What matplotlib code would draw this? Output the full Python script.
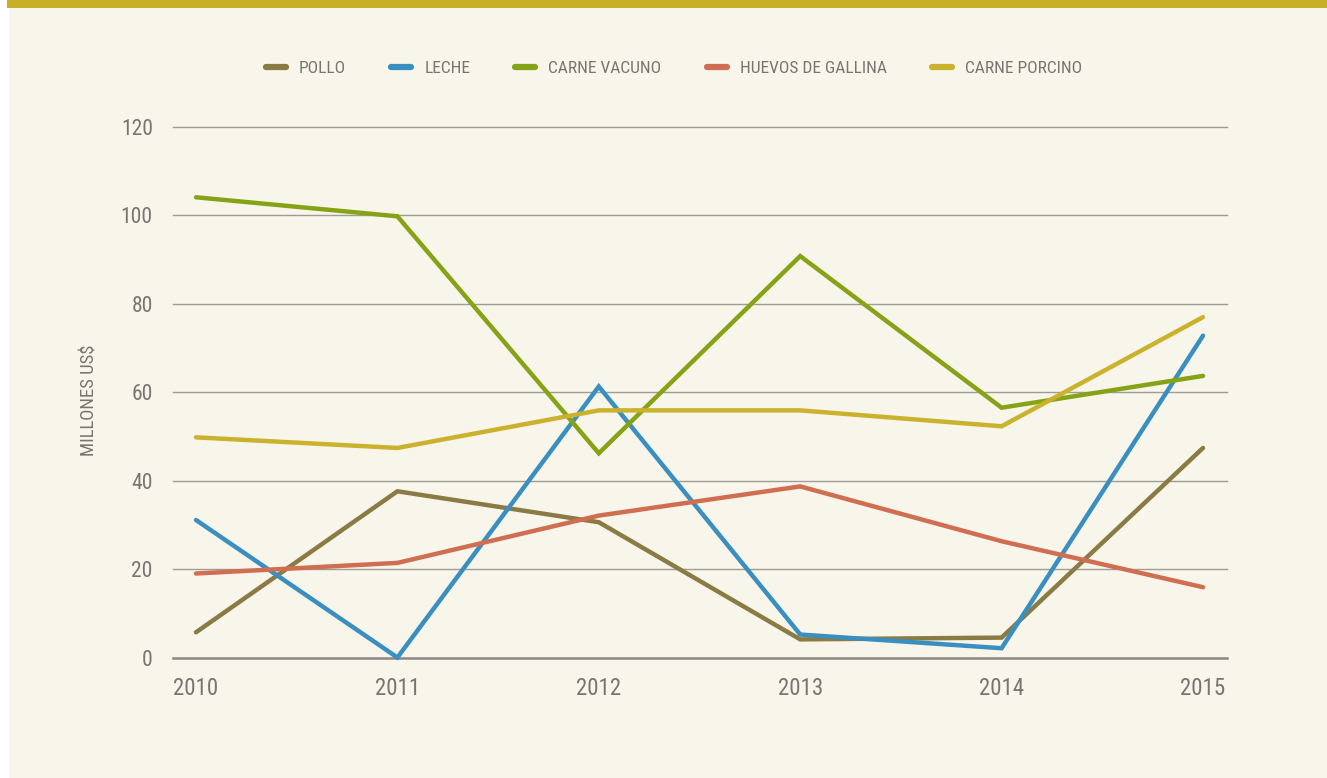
import matplotlib
matplotlib.use("Agg")
import matplotlib.pyplot as plt
from matplotlib.patches import Rectangle
from matplotlib.lines import Line2D

years = [2010, 2011, 2012, 2013, 2014, 2015]
series_names = ["POLLO", "LECHE", "CARNE VACUNO", "HUEVOS DE GALLINA", "CARNE PORCINO"]
pollo = [5.7, 37.6, 30.6, 4.1, 4.5, 47.4]
leche = [31.1, 0.0, 61.3, 5.2, 2.1, 72.8]
carne_vacuno = [104.1, 99.8, 46.2, 90.8, 56.5, 63.7]
huevos = [19.0, 21.4, 32.1, 38.7, 26.3, 15.9]
carne_porcino = [49.8, 47.4, 55.9, 55.9, 52.3, 77.0]
y_ticks = [0, 20, 40, 60, 80, 100, 120]
y_label = "MILLONES US$"

colors = ["#8A7B45", "#3A8FC1", "#86A316", "#D06E52", "#CAB22D"]
values = [pollo, leche, carne_vacuno, huevos, carne_porcino]

FONT = ["Roboto Condensed", "DejaVu Sans Condensed", "Liberation Sans Narrow", "DejaVu Sans"]
STRETCH = "condensed"
TXT = "#7A7471"
W, H = 1327, 778

fig = plt.figure(figsize=(W / 100, H / 100), dpi=100)
fig.patch.set_facecolor("white")
fig.add_artist(Rectangle((9 / W, 0), 1 - 9 / W, 1 - 8 / H, transform=fig.transFigure,
                         facecolor="#F8F5EA", edgecolor="none", zorder=-10))
fig.add_artist(Rectangle((7 / W, 1 - 8 / H), 1 - 7 / W, 8 / H, transform=fig.transFigure,
                         facecolor="#C8AF2A", edgecolor="none", zorder=-10))

left, right = 173 / W, 1227 / W
bottom, top = 1 - 657.5 / H, 1 - 127 / H
ax = fig.add_axes([left, bottom, right - left, top - bottom])
ax.set_facecolor("none")
ax.set_xlim(2010 - 23 / 201.4, 2015 + 24 / 201.4)
ax.set_ylim(0, 120)
for s in ax.spines.values():
    s.set_visible(False)

for t in y_ticks[1:]:
    ax.axhline(t, color="#A09B96", lw=1.0, zorder=1, clip_on=False)
ax.axhline(0, color="#8C8782", lw=1.8, zorder=1, clip_on=False)

for name, vals, c in zip(series_names, values, colors):
    ax.plot(years, vals, color=c, lw=3.2, solid_capstyle="round",
            solid_joinstyle="miter", zorder=3, clip_on=False, label=name)

ax.set_xticks(years)
ax.set_xticklabels([str(y) for y in years], fontsize=16.5, color=TXT, family=FONT,
                   fontstretch=STRETCH)
ax.set_yticks(y_ticks)
ax.set_yticklabels([str(t) for t in y_ticks], fontsize=15.5, color=TXT, family=FONT,
                   fontstretch=STRETCH)
ax.tick_params(axis="x", length=0, pad=14)
ax.tick_params(axis="y", length=0, pad=14.5)

fig.text(89 / W, 1 - 400 / H, y_label, rotation=90, ha="center", va="center",
         fontsize=13.5, color=TXT, family=FONT, fontstretch=STRETCH)

handles = [Line2D([0], [0], color=c, lw=4.5, solid_capstyle="round") for c in colors]
leg = fig.legend(handles, series_names, loc="center", bbox_to_anchor=(674 / W, 1 - 68 / H),
                 ncol=5, frameon=False, handlelength=1.15, handletextpad=0.75,
                 columnspacing=2.6,
                 prop={"family": FONT, "size": 12.5, "stretch": STRETCH})
for t in leg.get_texts():
    t.set_color(TXT)

fig.savefig("out.png", dpi=100, facecolor=fig.get_facecolor())
